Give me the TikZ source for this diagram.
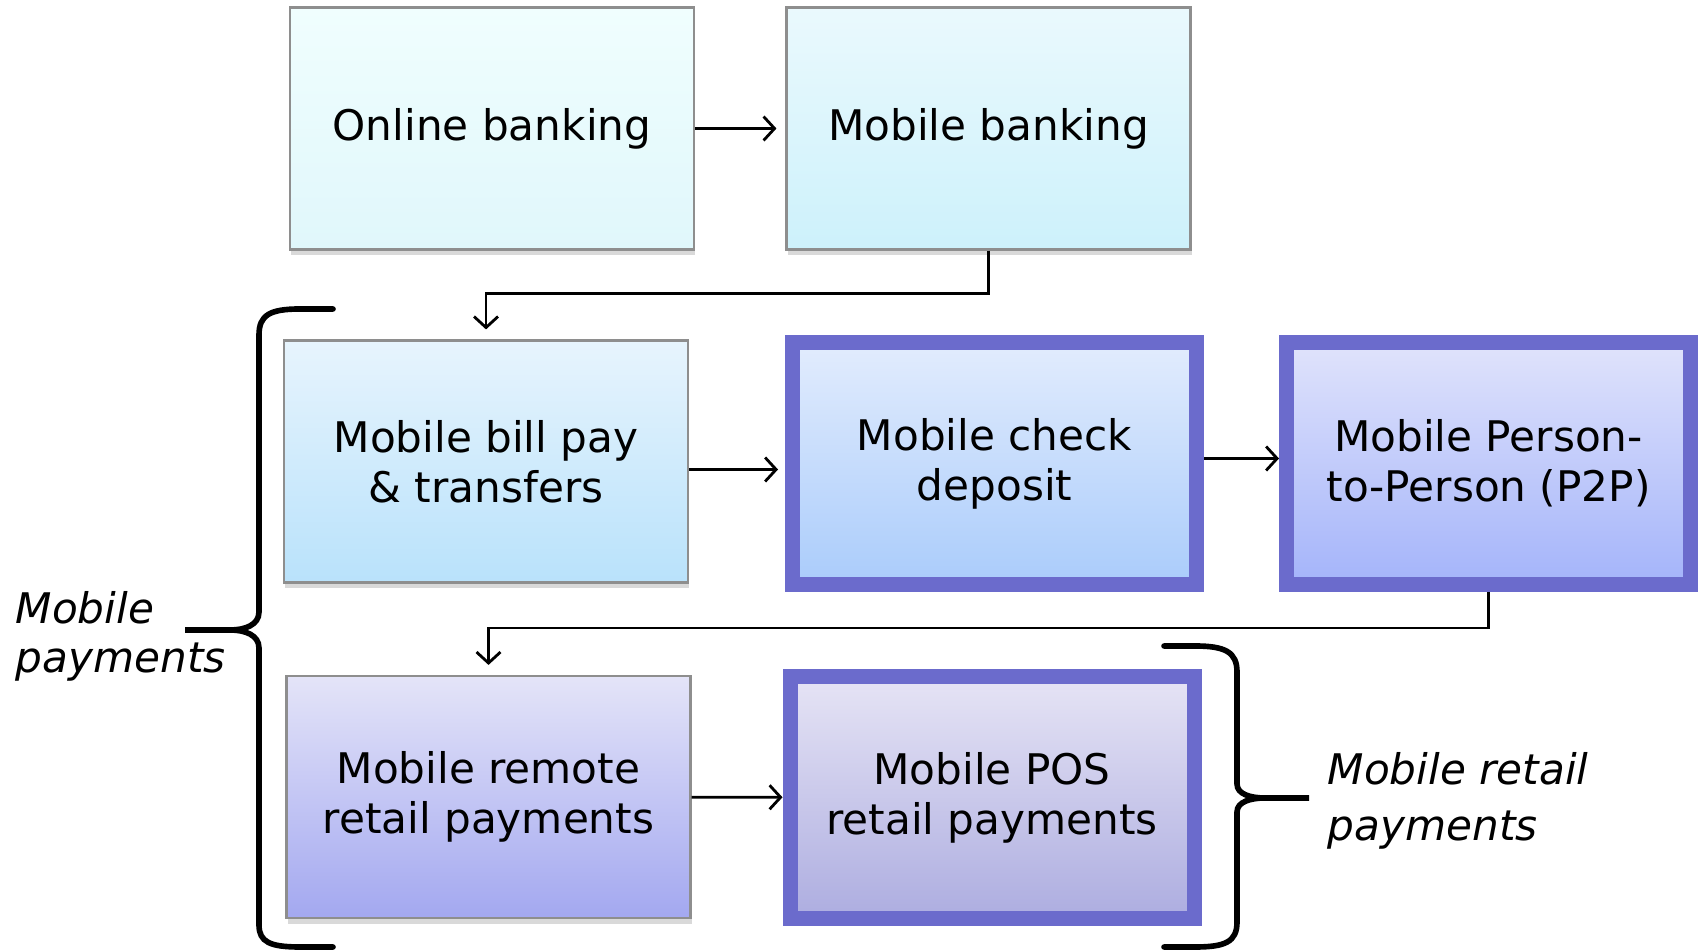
\documentclass[tikz,border=0pt]{standalone}
\usepackage{fontspec}
\setmainfont{DejaVu Sans}
\usepackage{tikz}
\usetikzlibrary{arrows.meta,positioning,shadows}
\usepackage{xcolor}
\definecolor{bord}{HTML}{6B6BCC}
\definecolor{edge}{HTML}{8E8E8E}
\definecolor{onlt}{HTML}{F0FEFE}
\definecolor{onlb}{HTML}{E0F7FB}
\definecolor{mobt}{HTML}{EAF9FD}
\definecolor{mobb}{HTML}{CDF1FB}
\definecolor{bilt}{HTML}{E7F4FD}
\definecolor{bilb}{HTML}{B9E2FB}
\definecolor{chkt}{HTML}{E2ECFD}
\definecolor{chkb}{HTML}{AACCFB}
\definecolor{ptpt}{HTML}{E0E3FB}
\definecolor{ptpb}{HTML}{A4B4FA}
\definecolor{remt}{HTML}{E4E4F8}
\definecolor{remb}{HTML}{A3A8F0}
\definecolor{post}{HTML}{E6E4F5}
\definecolor{posb}{HTML}{ADADE0}

\tikzset{
  stage/.style={draw=edge, line width=0.6pt, minimum width=4.04cm, minimum height=2.42cm,
    align=center, font=\fontsize{12}{14.2}\selectfont, inner sep=0pt,
    drop shadow={opacity=0.3, shadow xshift=0.4pt, shadow yshift=-1.6pt}},
  key/.style={stage, draw=bord, line width=0.15cm},
  arr/.style={line width=0.8pt, -{Straight Barb[length=1.1mm,width=2.4mm]}},
  brc/.style={line width=1.6pt, line cap=round},
  lab/.style={font=\fontsize{12}{14}\selectfont\itshape, align=left, anchor=west, inner sep=0pt}
}

\begin{document}
\begin{tikzpicture}
  \useasboundingbox (0,0) rectangle (16.98,-9.51);

  % Banking channels
  \node[stage, top color=onlt, bottom color=onlb] (online) at (4.92,-1.285) {Online banking};
  \node[stage, top color=mobt, bottom color=mobb] (mbank) at (9.885,-1.285) {Mobile banking};

  % Mobile payment services
  \node[stage, top color=bilt, bottom color=bilb] (billpay) at (4.86,-4.615) {Mobile bill pay\\\& transfers};
  \node[key, top color=chkt, bottom color=chkb] (check) at (9.945,-4.635) {Mobile check\\deposit};
  \node[key, top color=ptpt, bottom color=ptpb] (ptp) at (14.885,-4.635) {Mobile Person-\\to-Person (P2P)};
  \node[stage, top color=remt, bottom color=remb] (remote) at (4.885,-7.97) {Mobile remote\\retail payments};
  \node[key, top color=post, bottom color=posb] (pos) at (9.92,-7.975) {Mobile POS\\retail payments};

  % Flow
  \draw[arr, shorten >=0.09cm] (online) -- (mbank);
  \draw[arr, shorten >=0.1cm] (mbank.south) -- ++(0,-0.43) -| (billpay.north);
  \draw[arr, shorten >=0.07cm] ([yshift=-0.08cm]billpay.east) -- ([yshift=-0.06cm]check.west);
  \draw[arr] ([yshift=0.05cm]check.east) -- ([yshift=0.05cm]ptp.west);
  \draw[arr, shorten >=0.1cm] (ptp.south) -- ++(0,-0.36) -| (remote.north);
  \draw[arr] (remote) -- (pos);

  % Groupings
  \draw[brc] (3.33,-3.09) -- (3.0,-3.09) .. controls (2.7,-3.09) and (2.59,-3.15) .. (2.59,-3.35)
    -- (2.59,-6.12) .. controls (2.59,-6.25) and (2.45,-6.30) .. (2.30,-6.30) -- (1.85,-6.30)
    -- (2.30,-6.30) .. controls (2.45,-6.30) and (2.59,-6.35) .. (2.59,-6.48)
    -- (2.59,-9.25) .. controls (2.59,-9.42) and (2.7,-9.47) .. (3.0,-9.47) -- (3.33,-9.47);
  \draw[brc] (11.64,-6.46) -- (11.95,-6.46) .. controls (12.25,-6.46) and (12.37,-6.52) .. (12.37,-6.72)
    -- (12.37,-7.84) .. controls (12.37,-7.94) and (12.5,-7.98) .. (12.65,-7.98) -- (13.09,-7.98)
    -- (12.65,-7.98) .. controls (12.5,-7.98) and (12.37,-8.02) .. (12.37,-8.12)
    -- (12.37,-9.22) .. controls (12.37,-9.42) and (12.25,-9.47) .. (11.95,-9.47) -- (11.64,-9.47);

  \node[lab] (mpay) at (0.15,-6.365) {Mobile\\payments};
  \node[lab] (mretail) at (13.27,-8.005) {Mobile retail\\[2pt]payments};
\end{tikzpicture}
\end{document}
